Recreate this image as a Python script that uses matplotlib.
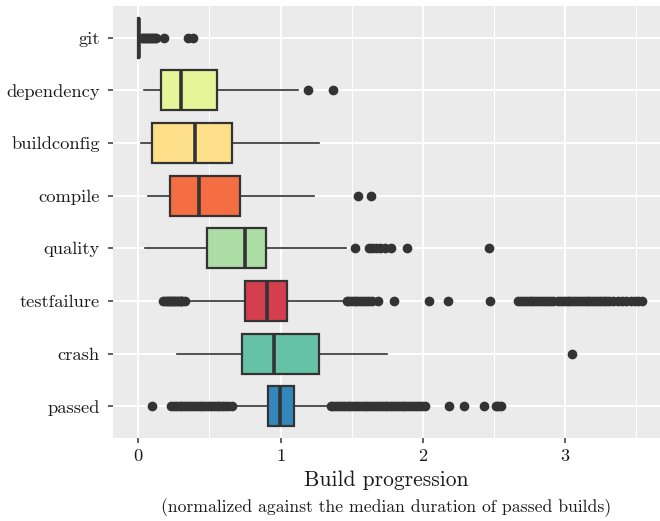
import matplotlib
matplotlib.use('Agg')
import matplotlib.pyplot as plt
from matplotlib.ticker import MultipleLocator

plt.rcParams['font.family'] = ['cmr10', 'DejaVu Serif']
plt.rcParams['axes.formatter.use_mathtext'] = True

# categories, top to bottom
categories = ['git', 'dependency', 'buildconfig', 'compile', 'quality',
              'testfailure', 'crash', 'passed']
colors = ['#fdae61', '#e6f598', '#fee08b', '#f46d43', '#abdda4',
          '#d53e4f', '#66c2a5', '#3288bd']

# box statistics
q1 = [0.0, 0.160, 0.094, 0.221, 0.481, 0.750, 0.727, 0.909]
med = [0.004, 0.302, 0.398, 0.427, 0.752, 0.902, 0.954, 0.998]
q3 = [0.008, 0.551, 0.658, 0.717, 0.897, 1.047, 1.272, 1.096]
whislo = [0.0, 0.042, 0.019, 0.070, 0.049, 0.328, 0.274, 0.656]
whishi = [0.02, 1.120, 1.272, 1.237, 1.460, 1.460, 1.751, 1.354]

fliers = [
    # git
    [0.025, 0.035, 0.045, 0.055, 0.065, 0.075, 0.085, 0.095, 0.105, 0.115, 0.125, 0.183, 0.351, 0.387],
    # dependency
    [1.195, 1.370],
    # buildconfig
    [],
    # compile
    [1.546, 1.633],
    # quality
    [1.525, 1.619, 1.642, 1.670, 1.698, 1.734, 1.776, 1.888, 2.465],
    # testfailure
    [0.176, 0.19, 0.20, 0.21, 0.22, 0.23, 0.24, 0.25, 0.26, 0.27, 0.28, 0.29, 0.30, 0.31, 0.328,
     1.464, 1.48, 1.50, 1.52, 1.54, 1.56, 1.58, 1.60, 1.62, 1.640, 1.687, 1.799, 2.045, 2.174,
     2.472, 2.668, 2.69, 2.71, 2.73, 2.75, 2.77, 2.79, 2.81, 2.83, 2.85, 2.87, 2.89, 2.914,
     2.950, 2.97, 2.99, 3.01, 3.03, 3.05, 3.07, 3.09, 3.11, 3.13, 3.15, 3.17, 3.19, 3.21,
     3.23, 3.25, 3.27, 3.29, 3.31, 3.336, 3.371, 3.40, 3.43, 3.46, 3.49, 3.51, 3.540],
    # crash
    [3.046],
    # passed
    [0.094, 0.228, 0.25, 0.27, 0.29, 0.31, 0.33, 0.35, 0.37, 0.39, 0.41, 0.43, 0.45, 0.47,
     0.49, 0.51, 0.53, 0.55, 0.57, 0.59, 0.61, 0.63, 0.656,
     1.354, 1.37, 1.39, 1.41, 1.43, 1.45, 1.47, 1.49, 1.51, 1.53, 1.55, 1.57, 1.59, 1.61,
     1.63, 1.65, 1.67, 1.69, 1.71, 1.73, 1.75, 1.77, 1.79, 1.81, 1.83, 1.85, 1.87, 1.89,
     1.91, 1.93, 1.95, 1.97, 1.99, 2.015, 2.183, 2.291, 2.431, 2.512, 2.53, 2.547],
]

xticks = [0, 1, 2, 3]

fig = plt.figure(figsize=(6.6, 5.21), dpi=100)
ax = fig.add_axes([113 / 660, 1 - 438 / 521, 1 - 113 / 660, (438 - 6) / 521])
ax.set_facecolor('#ebebeb')

stats = []
for i, name in enumerate(categories):
    stats.append(dict(label=name, q1=q1[i], med=med[i], q3=q3[i],
                      whislo=whislo[i], whishi=whishi[i], fliers=fliers[i]))

dark = '#333333'
bp = ax.bxp(stats, positions=range(len(categories)), orientation='horizontal',
            widths=0.76, patch_artist=True, showcaps=False,
            boxprops=dict(edgecolor=dark, linewidth=1.6),
            medianprops=dict(color=dark, linewidth=2.6, solid_capstyle='butt'),
            whiskerprops=dict(color=dark, linewidth=1.2),
            flierprops=dict(marker='o', markerfacecolor=dark, markeredgecolor=dark,
                            markeredgewidth=0, markersize=7))
for patch, c in zip(bp['boxes'], colors):
    patch.set_facecolor(c)
    patch.set_zorder(3)
for key in ['medians', 'whiskers', 'fliers']:
    for art in bp[key]:
        art.set_zorder(3)

ax.set_ylim(len(categories) - 0.4, -0.6)
ax.set_xlim(-0.178, 3.666)
ax.set_yticks(range(len(categories)))
ax.set_yticklabels(categories)
ax.set_xticks(xticks)
ax.set_xticklabels([str(t) for t in xticks])
ax.xaxis.set_minor_locator(MultipleLocator(0.5))

ax.set_axisbelow(True)
ax.grid(True, which='major', color='white', linewidth=1.4)
ax.grid(True, which='minor', axis='x', color='white', linewidth=0.75)
for s in ax.spines.values():
    s.set_visible(False)
ax.tick_params(axis='both', which='major', length=3.5, width=1.1, color=dark,
               labelsize=13.3, labelcolor='#1a1a1a')
ax.tick_params(axis='y', pad=6)
ax.tick_params(axis='x', pad=4)
ax.tick_params(axis='x', which='minor', length=0)

ax.set_xlabel('Build progression', fontsize=15.5, color='#1a1a1a', labelpad=5)
fig.text((113 + 660) / 2 / 660, 1 - 508 / 521,
         '(normalized against the median duration of passed builds)',
         ha='center', va='center', fontsize=12.7, color='#1a1a1a')

fig.savefig('out.png', dpi=100)
